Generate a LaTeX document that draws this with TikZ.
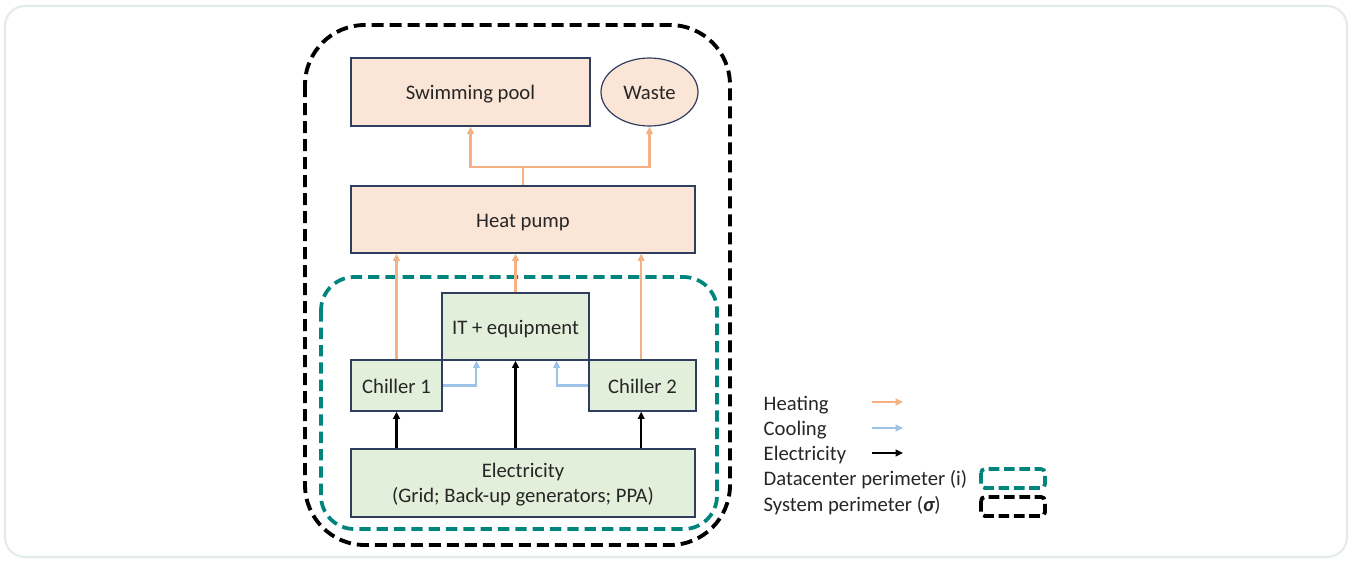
\documentclass[tikz,border=0pt]{standalone}
\usepackage{fontspec}
\setmainfont{Carlito}
\usetikzlibrary{arrows.meta,calc,shapes.geometric}
\definecolor{peach}{HTML}{FBE5D6}
\definecolor{lgreen}{HTML}{E2EFDA}
\definecolor{navy}{HTML}{2F3D5F}
\definecolor{heatc}{HTML}{F4B183}
\definecolor{coolc}{HTML}{9DC3E6}
\definecolor{tealc}{HTML}{00857D}
\definecolor{framec}{HTML}{E3ECEA}
\definecolor{txt}{HTML}{262626}
\tikzset{
  lbl/.style={font=\fontsize{15.5}{18.75}\selectfont, text=txt},
  oneline/.style={text height=14.7pt, text depth=3.1pt},
  pbox/.style={lbl, draw=navy, line width=0.9pt, fill=peach, rectangle, inner sep=0pt},
  gbox/.style={lbl, draw=navy, line width=0.9pt, fill=lgreen, rectangle, inner sep=0pt},
  tip/.style={-{Triangle[length=5.5pt,width=5pt]}},
  heat/.style={tip, draw=heatc, line width=1.6pt},
  cool/.style={tip, draw=coolc, line width=1.6pt},
  elec/.style={tip, draw=black, line width=1.6pt},
  perimteal/.style={draw=tealc, line width=2.8pt, dash pattern=on 8.5pt off 4.5pt},
  perimblack/.style={draw=black, line width=2.9pt, dash pattern=on 9pt off 4.5pt},
}
\begin{document}
\begin{tikzpicture}[x=0.75pt,y=-0.75pt]
\useasboundingbox (0,0) rectangle (1352,561);
\draw[framec, line width=1.6pt, rounded corners=15pt] (5,6) rectangle (1347,557);

% perimeters
\draw[perimblack, rounded corners=45pt] (305,25) rectangle (730,545);
\draw[perimteal, rounded corners=25pt] (321,277) rectangle (717,529);

% nodes
\node[pbox, oneline, minimum width=179.25pt, minimum height=51pt] (sp) at (470.5,92) {Swimming pool};
\node[lbl, oneline, ellipse, draw=navy, line width=0.9pt, fill=peach, inner sep=0pt, minimum width=72.75pt, minimum height=51pt] (waste) at (649.5,92) {Waste};
\node[pbox, oneline, minimum width=258pt, minimum height=50.25pt] (hp) at (523,219.5) {Heat pump};
\node[gbox, oneline, minimum width=110.25pt, minimum height=50.25pt] (it) at (515.5,326.5) {IT + equipment};
\node[gbox, oneline, minimum width=68.25pt, minimum height=38.25pt] (c1) at (396.5,385.5) {Chiller 1};
\node[gbox, oneline, minimum width=80.25pt, minimum height=38.25pt] (c2) at (642.5,385.5) {Chiller 2};
\node[gbox, minimum width=258pt, minimum height=51pt] (el) at (523,483) {};
\node[lbl, align=center, inner sep=0pt] (eltext) at (523,485) {Electricity\\(Grid; Back-up generators; PPA)};

% heat pump outputs
\coordinate (j) at ($(hp.north)+(0,-18)$);
\draw[heat] (hp.north) -- (j) -| (sp.south);
\draw[heat] (j) -| (waste.south);

% heat into heat pump
\draw[heat] (c1.north) -- (c1.north |- hp.south);
\draw[heat] (it.north) -- (it.north |- hp.south);
\draw[heat] ([xshift=-1pt]c2.north) -- ([xshift=-1pt]c2.north |- hp.south);

% cooling
\draw[cool] (c1.east) -| ($(it.south west)+(35,0)$);
\draw[cool] (c2.west) -| ($(it.south east)+(-33,0)$);

% electricity
\draw[elec] (c1.south |- el.north) -- (c1.south);
\draw[elec] (it.south |- el.north) -- (it.south);
\draw[elec] ([xshift=-1pt]c2.south |- el.north) -- ([xshift=-1pt]c2.south);

% legend
\node[lbl, oneline, anchor=west] (lh) at (759,403) {Heating};
\node[lbl, oneline, anchor=west] (lc) at (759,428) {Cooling};
\node[lbl, oneline, anchor=west] (le) at (759,452.5) {Electricity};
\node[lbl, oneline, anchor=west] (ld) at (759,477.5) {Datacenter perimeter (i)};
\node[lbl, oneline, anchor=west] (ls) at (759,503.5) {System perimeter ({\bfseries\itshape σ})};
\coordinate (ah1) at (872,402); \coordinate (ah2) at (903,402);
\coordinate (ac1) at (872,428); \coordinate (ac2) at (903,428);
\coordinate (ae1) at (872,453); \coordinate (ae2) at (903,453);
\draw[heat] (ah1) -- (ah2);
\draw[cool] (ac1) -- (ac2);
\draw[elec] (ae1) -- (ae2);
\draw[perimteal, rounded corners=3pt, dash pattern=on 8pt off 3.5pt] (981,469) rectangle (1045,488);
\draw[perimblack, rounded corners=3pt, dash pattern=on 8pt off 3.5pt] (981,497) rectangle (1045,516);
\end{tikzpicture}
\end{document}
